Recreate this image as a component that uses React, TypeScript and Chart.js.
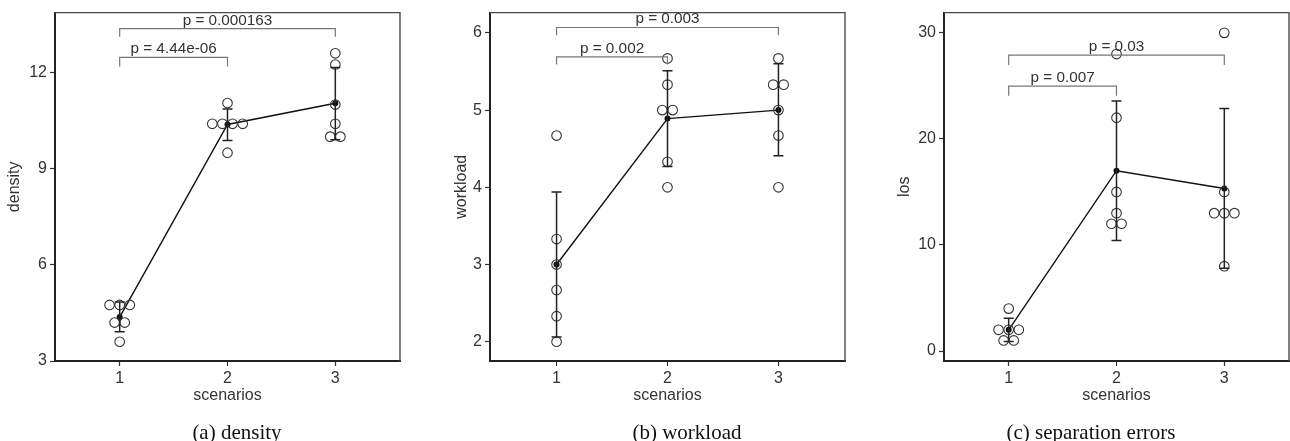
import React, { useEffect, useRef } from "react";
import { Chart, registerables } from "chart.js";
Chart.register(...registerables);

// ---------- data ----------
const scenarios = [1, 2, 3];
const xTickValues = [1, 2, 3];

const densityPoints = [
  [4.75, 4.75, 4.75, 4.2, 4.2, 3.6],
  [11.05, 10.4, 10.4, 10.4, 10.4, 9.5],
  [12.6, 12.25, 11.0, 10.4, 10.0, 10.0],
];
const densityMean = [4.37, 10.38, 11.04];
const densityLow = [3.91, 9.88, 9.9];
const densityHigh = [4.84, 10.86, 12.16];
const densityTicks = [3, 6, 9, 12];
const densityBracketY = [12.47, 13.37];
const densityBracketEnd = [12.19, 13.12];
const densityPLabels = ["p = 4.44e-06", "p = 0.000163"];

const workloadPoints = [
  [4.67, 3.33, 3.0, 2.67, 2.33, 2.0],
  [5.67, 5.33, 5.0, 5.0, 4.33, 4.0],
  [5.67, 5.33, 5.33, 5.0, 4.67, 4.0],
];
const workloadMean = [3.0, 4.89, 5.0];
const workloadLow = [2.06, 4.27, 4.41];
const workloadHigh = [3.94, 5.51, 5.6];
const workloadTicks = [2, 3, 4, 5, 6];
const workloadBracketY = [5.69, 6.07];
const workloadBracketEnd = [5.59, 5.97];
const workloadPLabels = ["p = 0.002", "p = 0.003"];

const losPoints = [
  [4, 2, 2, 2, 1, 1],
  [28, 22, 15, 13, 12, 12],
  [30, 15, 13, 13, 13, 8],
];
const losMean = [2.0, 17.0, 15.33];
const losLow = [0.9, 10.43, 7.8];
const losHigh = [3.1, 23.57, 22.87];
const losTicks = [0, 10, 20, 30];
const losBracketY = [24.97, 27.9];
const losBracketEnd = [24.06, 26.97];
const losPLabels = ["p = 0.007", "p = 0.03"];

const bracketFrom = [1, 1];
const bracketTo = [2, 3];

// ---------- helpers ----------
const SANS = "'Liberation Sans', Arial, sans-serif";
const DODGE = 0.094;

function dodgePoints(groups: number[][]) {
  const out: { x: number; y: number }[] = [];
  groups.forEach((vals, gi) => {
    const center = scenarios[gi];
    const counts = new Map<number, number>();
    vals.forEach((v) => counts.set(v, (counts.get(v) || 0) + 1));
    const seen = new Map<number, number>();
    vals.forEach((v) => {
      const n = counts.get(v) || 1;
      const i = seen.get(v) || 0;
      seen.set(v, i + 1);
      out.push({ x: center + (i - (n - 1) / 2) * DODGE, y: v });
    });
  });
  return out;
}

type PanelCfg = {
  left: number;
  yAxisWidth: number;
  padRight: number;
  yMin: number;
  yMax: number;
  yTicks: number[];
  yTitle: string;
  yTitlePad: number;
  caption: string;
  captionCenter: number;
  points: number[][];
  mean: number[];
  low: number[];
  high: number[];
  bracketY: number[];
  bracketEnd: number[];
  pLabels: string[];
};

const panels: PanelCfg[] = [
  {
    left: 0, yAxisWidth: 55, padRight: 30, yMin: 3, yMax: 13.87, yTicks: densityTicks,
    yTitle: "density", yTitlePad: 5.4, caption: "(a) density", captionCenter: 237,
    points: densityPoints, mean: densityMean, low: densityLow, high: densityHigh,
    bracketY: densityBracketY, bracketEnd: densityBracketEnd, pLabels: densityPLabels,
  },
  {
    left: 430, yAxisWidth: 60, padRight: 15, yMin: 1.75, yMax: 6.263, yTicks: workloadTicks,
    yTitle: "workload", yTitlePad: 22, caption: "(b) workload", captionCenter: 687,
    points: workloadPoints, mean: workloadMean, low: workloadLow, high: workloadHigh,
    bracketY: workloadBracketY, bracketEnd: workloadBracketEnd, pLabels: workloadPLabels,
  },
  {
    left: 860, yAxisWidth: 84, padRight: 1, yMin: -0.94, yMax: 31.91, yTicks: losTicks,
    yTitle: "los", yTitlePad: 35.4, caption: "(c) separation errors", captionCenter: 1091,
    points: losPoints, mean: losMean, low: losLow, high: losHigh,
    bracketY: losBracketY, bracketEnd: losBracketEnd, pLabels: losPLabels,
  },
];

function Panel({ cfg }: { cfg: PanelCfg }) {
  const ref = useRef<HTMLCanvasElement>(null);
  useEffect(() => {
    if (!ref.current) return;
    const overlay = {
      id: "overlay",
      afterDatasetsDraw(chart: any) {
        const { ctx, chartArea } = chart;
        const xs = chart.scales.x;
        const ys = chart.scales.y;
        ctx.save();
        // frame top/right
        ctx.strokeStyle = "#4a4a4a";
        ctx.lineWidth = 1.4;
        ctx.beginPath();
        ctx.moveTo(chartArea.left, chartArea.top);
        ctx.lineTo(chartArea.right, chartArea.top);
        ctx.lineTo(chartArea.right, chartArea.bottom);
        ctx.stroke();
        // error bars
        ctx.strokeStyle = "#222";
        ctx.lineWidth = 1.5;
        scenarios.forEach((s, i) => {
          const x = xs.getPixelForValue(s);
          const y1 = ys.getPixelForValue(cfg.low[i]);
          const y2 = ys.getPixelForValue(cfg.high[i]);
          ctx.beginPath();
          ctx.moveTo(x, y1);
          ctx.lineTo(x, y2);
          ctx.moveTo(x - 5, y1);
          ctx.lineTo(x + 5, y1);
          ctx.moveTo(x - 5, y2);
          ctx.lineTo(x + 5, y2);
          ctx.stroke();
        });
        // brackets
        ctx.strokeStyle = "#777";
        ctx.lineWidth = 1.2;
        ctx.fillStyle = "#333";
        ctx.font = `15.3px ${SANS}`;
        ctx.textAlign = "center";
        ctx.textBaseline = "alphabetic";
        cfg.bracketY.forEach((by, i) => {
          const xa = xs.getPixelForValue(bracketFrom[i]);
          const xb = xs.getPixelForValue(bracketTo[i]);
          const yTop = ys.getPixelForValue(by);
          const yEnd = ys.getPixelForValue(cfg.bracketEnd[i]);
          ctx.beginPath();
          ctx.moveTo(xa, yEnd);
          ctx.lineTo(xa, yTop);
          ctx.lineTo(xb, yTop);
          ctx.lineTo(xb, yEnd);
          ctx.stroke();
          ctx.fillText(cfg.pLabels[i], (xa + xb) / 2, yTop - 4);
        });
        ctx.restore();
      },
    };
    const chart = new Chart(ref.current, {
      type: "scatter",
      data: {
        datasets: [
          {
            data: dodgePoints(cfg.points),
            pointRadius: 4.8,
            pointBorderWidth: 1.1,
            pointBorderColor: "#333",
            pointBackgroundColor: "rgba(0,0,0,0)",
            showLine: false,
          } as any,
          {
            data: scenarios.map((s, i) => ({ x: s, y: cfg.mean[i] })),
            showLine: true,
            borderColor: "#111",
            borderWidth: 1.4,
            pointRadius: 3,
            pointBackgroundColor: "#111",
            pointBorderColor: "#111",
            pointBorderWidth: 0,
          } as any,
        ],
      },
      options: {
        responsive: false,
        animation: false,
        layout: { autoPadding: false, padding: { top: 12, right: cfg.padRight, bottom: 0, left: 0 } },
        plugins: { legend: { display: false }, tooltip: { enabled: false } },
        scales: {
          x: {
            type: "linear",
            min: 0.4,
            max: 3.6,
            afterBuildTicks: (s: any) => {
              s.ticks = xTickValues.map((v) => ({ value: v }));
            },
            afterFit: (s: any) => {
              s.height = 80;
            },
            grid: { drawOnChartArea: false, drawTicks: true, tickLength: 5, tickColor: "#333", tickWidth: 1.2 },
            border: { display: true, color: "#222", width: 2 },
            ticks: { color: "#333", font: { family: SANS, size: 16 }, padding: 3, callback: (v: any) => String(v) },
            title: {
              display: true, text: "scenarios", color: "#333",
              font: { family: SANS, size: 16 }, padding: { top: 0, bottom: 35.4 },
            },
          },
          y: {
            type: "linear",
            min: cfg.yMin,
            max: cfg.yMax,
            afterBuildTicks: (s: any) => {
              s.ticks = cfg.yTicks.map((v) => ({ value: v }));
            },
            afterFit: (s: any) => {
              s.width = cfg.yAxisWidth;
            },
            grid: { drawOnChartArea: false, drawTicks: true, tickLength: 5, tickColor: "#333", tickWidth: 1.2 },
            border: { display: true, color: "#222", width: 2 },
            ticks: { color: "#333", font: { family: SANS, size: 16 }, padding: 3, callback: (v: any) => String(v) },
            title: {
              display: true, text: cfg.yTitle, color: "#333",
              font: { family: SANS, size: 16 }, padding: { top: cfg.yTitlePad, bottom: 0 },
            },
          },
        },
      } as any,
      plugins: [overlay],
    });
    return () => chart.destroy();
  }, [cfg]);

  return (
    <>
      <div style={{ position: "absolute", left: cfg.left, top: 0, width: 430, height: 441 }}>
        <canvas ref={ref} width={430} height={441} style={{ display: "block", width: 430, height: 441 }} />
      </div>
      <div
        style={{
          position: "absolute",
          left: cfg.captionCenter - 200,
          top: 420,
          width: 400,
          textAlign: "center",
          fontFamily: "'Liberation Serif', 'Times New Roman', serif",
          fontSize: 21,
          lineHeight: "24px",
          color: "#111",
          whiteSpace: "nowrap",
        }}
      >
        {cfg.caption}
      </div>
    </>
  );
}

export default function App() {
  return (
    <div
      style={{
        position: "fixed",
        left: 0,
        top: 0,
        width: 1290,
        height: 441,
        background: "#fff",
        overflow: "hidden",
      }}
    >
      {panels.map((p) => (
        <Panel key={p.caption} cfg={p} />
      ))}
    </div>
  );
}
